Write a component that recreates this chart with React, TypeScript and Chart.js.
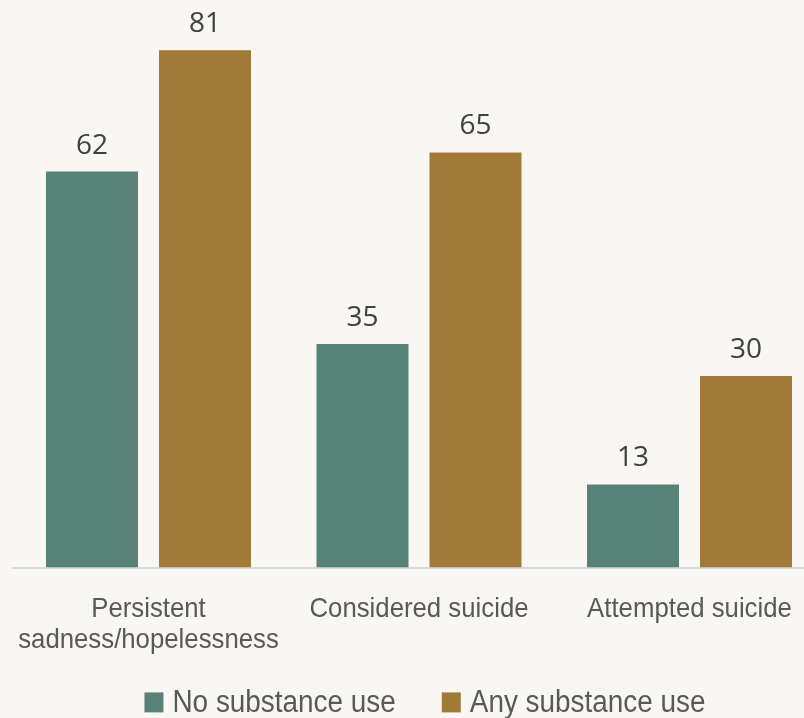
import React, { useEffect, useRef } from "react";
import { Chart, registerables } from "chart.js";

Chart.register(...registerables);

// Categories and series
const categories: string[][] = [
  ["Persistent", "sadness/hopelessness"],
  ["Considered suicide"],
  ["Attempted suicide"],
];
const noSubstanceUse = [62, 35, 13];
const anySubstanceUse = [81, 65, 30];
const seriesNames = ["No substance use", "Any substance use"];

const TEAL = "#588178";
const GOLD = "#a07a36";
const BG = "#f8f7f4";
const TEXT_FONT = "'Liberation Sans', Arial, sans-serif";
const VALUE_FONT = "'Open Sans', 'Noto Sans', sans-serif";
const Y_MAX = 87.3;

const CANVAS_W = 850;
const CANVAS_H = 718;
const AXIS_Y = 567.5;

// Narrow text: regular sans squeezed horizontally around its anchor
function narrowText(ctx: CanvasRenderingContext2D, text: string, x: number, y: number, sx: number, align: "left" | "center") {
  ctx.save();
  ctx.translate(x, y);
  ctx.scale(sx, 1);
  ctx.textAlign = align;
  ctx.fillText(text, 0, 0);
  ctx.restore();
}

// Draws the value above each bar
const valueLabels = {
  id: "valueLabels",
  afterDatasetsDraw(chart: any) {
    const { ctx } = chart;
    ctx.save();
    ctx.font = `28px ${VALUE_FONT}`;
    ctx.fillStyle = "#404040";
    ctx.textAlign = "center";
    ctx.textBaseline = "alphabetic";
    chart.data.datasets.forEach((ds: any, di: number) => {
      const meta = chart.getDatasetMeta(di);
      meta.data.forEach((bar: any, i: number) => {
        ctx.fillText(String(ds.data[i]), bar.x, bar.y - 18);
      });
    });
    ctx.restore();
  },
};

// Category names under the axis
const categoryLabels = {
  id: "categoryLabels",
  afterDraw(chart: any) {
    const { ctx } = chart;
    const xScale = chart.scales.x;
    const sx = 0.92;
    ctx.save();
    ctx.font = `28px ${TEXT_FONT}`;
    ctx.fillStyle = "#595959";
    ctx.textBaseline = "alphabetic";
    categories.forEach((lines, i) => {
      const cx = xScale.getPixelForValue(i);
      lines.forEach((line, li) => {
        narrowText(ctx, line, cx, 616.5 + li * 31.8, sx, "center");
      });
    });
    ctx.restore();
  },
};

// Legend row centred under the plot
const bottomLegend = {
  id: "bottomLegend",
  afterDraw(chart: any) {
    const { ctx } = chart;
    const sx = 0.9;
    const box = 19;
    const boxGap = 9;
    const itemGap = 46;
    const baseline = 712.4;
    ctx.save();
    ctx.font = `31px ${TEXT_FONT}`;
    ctx.textBaseline = "alphabetic";
    const items = chart.data.datasets.map((ds: any) => ({
      text: ds.label as string,
      color: ds.backgroundColor as string,
      w: ctx.measureText(ds.label).width * sx,
    }));
    const total =
      items.reduce((s: number, it: any) => s + box + boxGap + it.w, 0) +
      itemGap * (items.length - 1);
    let x = chart.width / 2 - total / 2;
    items.forEach((it: any) => {
      ctx.fillStyle = it.color;
      ctx.fillRect(x, baseline - 20, box, 20);
      x += box + boxGap;
      ctx.fillStyle = "#595959";
      narrowText(ctx, it.text, x, baseline, sx, "left");
      x += it.w + itemGap;
    });
    ctx.restore();
  },
};

export default function App() {
  const canvasRef = useRef<HTMLCanvasElement | null>(null);

  useEffect(() => {
    if (!canvasRef.current) return;
    const chart = new Chart(canvasRef.current, {
      type: "bar",
      data: {
        labels: categories.map((c) => c.join(" ")),
        datasets: [
          {
            label: seriesNames[0],
            data: noSubstanceUse,
            backgroundColor: TEAL,
            categoryPercentage: 0.8355,
            barPercentage: 0.814,
          },
          {
            label: seriesNames[1],
            data: anySubstanceUse,
            backgroundColor: GOLD,
            categoryPercentage: 0.8355,
            barPercentage: 0.814,
          },
        ],
      },
      options: {
        responsive: false,
        animation: false,
        layout: { padding: { top: 10, left: 13.25, right: 25.25, bottom: 0 } },
        plugins: {
          legend: { display: false },
          tooltip: { enabled: false },
        },
        scales: {
          x: {
            grid: { display: false },
            border: { display: true, color: "#d9d9d9", width: 2 },
            ticks: { display: false },
            afterFit: (scale: any) => {
              scale.height = CANVAS_H - AXIS_Y;
            },
          },
          y: {
            display: false,
            min: 0,
            max: Y_MAX,
          },
        },
      },
      plugins: [valueLabels, categoryLabels, bottomLegend],
    });
    return () => chart.destroy();
  }, []);

  return (
    <div
      style={{
        position: "absolute",
        left: 0,
        top: 0,
        width: 804,
        height: 718,
        overflow: "hidden",
        background: BG,
      }}
    >
      <canvas
        ref={canvasRef}
        width={CANVAS_W}
        height={CANVAS_H}
        style={{ width: CANVAS_W, height: CANVAS_H, display: "block" }}
      />
    </div>
  );
}
